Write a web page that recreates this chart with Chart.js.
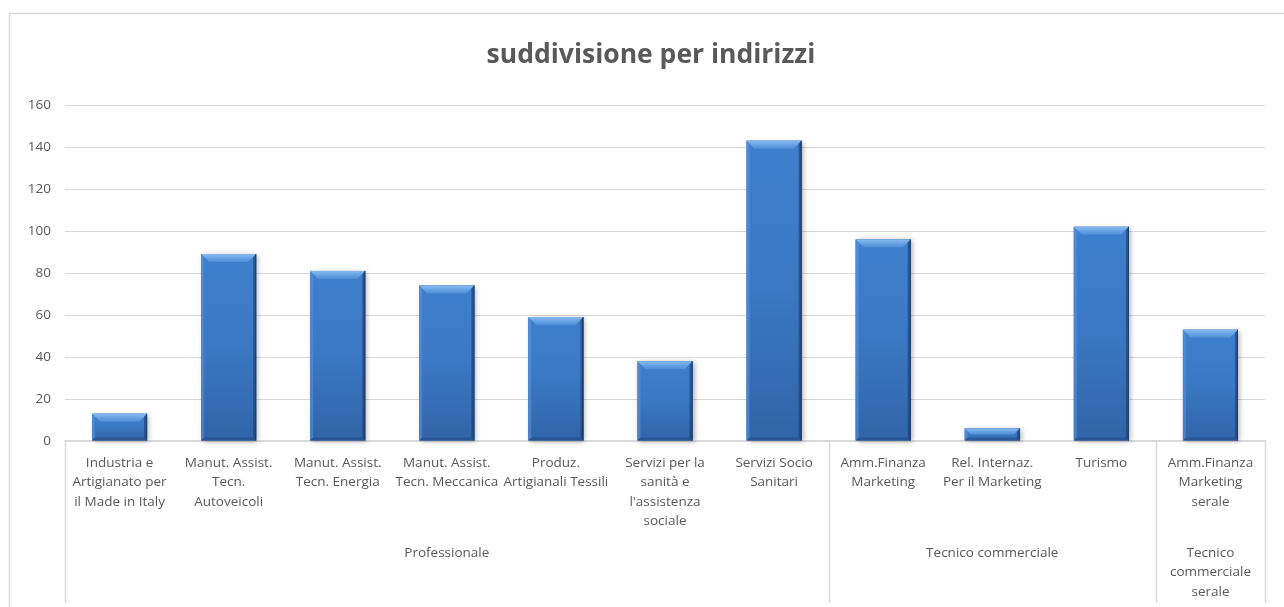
<!DOCTYPE html>
<html>
<head>
<meta charset="utf-8">
<script src="https://cdn.jsdelivr.net/npm/chart.js@4.4.1/dist/chart.umd.min.js"></script>
<style>
  html, body { margin: 0; padding: 0; background: #ffffff; }
  #wrap { width: 1284px; height: 607px; position: relative; }
</style>
</head>
<body>
<div id="wrap"><canvas id="c" width="1284" height="607"></canvas></div>
<script>
// ---- data ----
const titleText = 'suddivisione per indirizzi';
const categories = [
  ['Industria e', 'Artigianato per', 'il Made in Italy'],
  ['Manut. Assist.', 'Tecn.', 'Autoveicoli'],
  ['Manut. Assist.', 'Tecn. Energia'],
  ['Manut. Assist.', 'Tecn. Meccanica'],
  ['Produz.', 'Artigianali Tessili'],
  ['Servizi per la', 'sanità e', "l'assistenza", 'sociale'],
  ['Servizi Socio', 'Sanitari'],
  ['Amm.Finanza', 'Marketing'],
  ['Rel. Internaz.', 'Per il Marketing'],
  ['Turismo'],
  ['Amm.Finanza', 'Marketing', 'serale']
];
const groupTicks = ['', '', '', 'Professionale', '', '', '', '', 'Tecnico commerciale', '', ['Tecnico', 'commerciale', 'serale']];
const groupBoundaries = [0, 7, 10, 11];
const values = [13, 89, 81, 74, 59, 38, 143, 96, 6, 102, 53];
const yMin = 0, yMax = 160, yStep = 20;

const FONT = "'Open Sans', 'Noto Sans', sans-serif";
const TXT = '#595959';
const GRID = '#d9d9d9';

const framePlugin = {
  id: 'frame',
  beforeDraw(chart) {
    const ctx = chart.ctx;
    ctx.save();
    ctx.strokeStyle = GRID;
    ctx.lineWidth = 1.5;
    ctx.beginPath();
    ctx.moveTo(9.5, chart.height);
    ctx.lineTo(9.5, 13.5);
    ctx.lineTo(chart.width, 13.5);
    ctx.stroke();
    // title (centred on the full chart frame, which runs past the right edge)
    ctx.fillStyle = TXT;
    ctx.font = "bold 26.5px " + FONT;
    ctx.textAlign = 'center';
    ctx.textBaseline = 'middle';
    ctx.fillText(titleText, 651, 55);
    ctx.restore();
  },
  afterDraw(chart) {
    const ctx = chart.ctx;
    const xs = chart.scales.x;
    const step = xs.getPixelForValue(1) - xs.getPixelForValue(0);
    ctx.save();
    ctx.strokeStyle = GRID;
    ctx.lineWidth = 1.5;
    groupBoundaries.forEach(i => {
      const px = Math.round(xs.getPixelForValue(0) - step / 2 + i * step) + 0.5;
      ctx.beginPath();
      ctx.moveTo(px, chart.chartArea.bottom);
      ctx.lineTo(px, chart.height - 4);
      ctx.stroke();
    });
    ctx.restore();
  }
};

const bevelPlugin = {
  id: 'bevel',
  afterDatasetsDraw(chart) {
    const ctx = chart.ctx;
    const meta = chart.getDatasetMeta(0);
    meta.data.forEach(bar => {
      const w = bar.width;
      const L = bar.x - w / 2, R = bar.x + w / 2;
      const T = Math.min(bar.y, bar.base), B = Math.max(bar.y, bar.base);
      const h = B - T;
      const b = Math.min(8, h / 2, w / 2);
      const s = Math.min(3, w / 2);
      ctx.save();
      ctx.shadowColor = 'rgba(0,0,0,0.3)';
      ctx.shadowBlur = 5;
      ctx.shadowOffsetX = 2;
      ctx.shadowOffsetY = 1;
      const g = ctx.createLinearGradient(0, T, 0, B);
      g.addColorStop(0, '#3e80ce');
      g.addColorStop(0.5, '#3a78c3');
      g.addColorStop(1, '#3164a8');
      ctx.fillStyle = g;
      ctx.fillRect(L, T, w, h);
      ctx.shadowColor = 'transparent';
      const gt = ctx.createLinearGradient(0, T, 0, T + b);
      gt.addColorStop(0, '#86b9f0');
      gt.addColorStop(1, '#4d8dd8');
      ctx.fillStyle = gt;
      ctx.beginPath();
      ctx.moveTo(L, T); ctx.lineTo(R, T); ctx.lineTo(R - b, T + b); ctx.lineTo(L + b, T + b); ctx.closePath();
      ctx.fill();
      ctx.fillStyle = 'rgba(90,150,220,0.55)';
      ctx.beginPath();
      ctx.moveTo(L, T); ctx.lineTo(L + s, T + s); ctx.lineTo(L + s, B - s); ctx.lineTo(L, B); ctx.closePath();
      ctx.fill();
      ctx.fillStyle = 'rgba(25,55,100,0.55)';
      ctx.beginPath();
      ctx.moveTo(R, T); ctx.lineTo(R, B); ctx.lineTo(R - s, B - s); ctx.lineTo(R - s, T + s); ctx.closePath();
      ctx.fill();
      ctx.fillStyle = 'rgba(30,60,110,0.35)';
      ctx.beginPath();
      ctx.moveTo(L, B); ctx.lineTo(R, B); ctx.lineTo(R - s, B - s); ctx.lineTo(L + s, B - s); ctx.closePath();
      ctx.fill();
      ctx.strokeStyle = '#1f3d69';
      ctx.lineWidth = 1;
      ctx.beginPath();
      ctx.moveTo(R - 0.5, T); ctx.lineTo(R - 0.5, B);
      ctx.stroke();
      ctx.restore();
    });
  }
};

new Chart(document.getElementById('c'), {
  type: 'bar',
  data: {
    labels: categories,
    datasets: [{
      data: values,
      backgroundColor: '#3a78c3',
      borderWidth: 0,
      categoryPercentage: 1,
      barPercentage: 0.505,
      xAxisID: 'x'
    }]
  },
  options: {
    responsive: false,
    animation: false,
    devicePixelRatio: 1,
    layout: { padding: { left: 10, top: 105, right: 19, bottom: 0 } },
    plugins: {
      legend: { display: false },
      tooltip: { enabled: false },
      title: { display: false }
    },
    scales: {
      y: {
        min: yMin, max: yMax,
        ticks: { stepSize: yStep, color: TXT, padding: 14, font: { family: FONT, size: 13.5 } },
        grid: { color: GRID, lineWidth: 1, drawTicks: false },
        border: { display: false },
        afterFit(s) { s.width = 55; }
      },
      x: {
        type: 'category',
        position: 'bottom',
        offset: true,
        ticks: { color: TXT, autoSkip: false, maxRotation: 0, minRotation: 0, padding: 12,
                 font: { family: FONT, size: 13.5, lineHeight: 1.45 } },
        grid: { display: false, drawTicks: false },
        border: { display: true, color: GRID, width: 1.5 },
        afterFit(s) { s.height = 90; }
      },
      x2: {
        type: 'category',
        position: 'bottom',
        offset: true,
        labels: groupTicks,
        ticks: { color: TXT, autoSkip: false, maxRotation: 0, minRotation: 0, padding: 12,
                 font: { family: FONT, size: 13.5, lineHeight: 1.45 } },
        grid: { display: false, drawTicks: false },
        border: { display: false },
        afterFit(s) { s.height = 76; }
      }
    }
  },
  plugins: [framePlugin, bevelPlugin]
});
</script>
</body>
</html>
